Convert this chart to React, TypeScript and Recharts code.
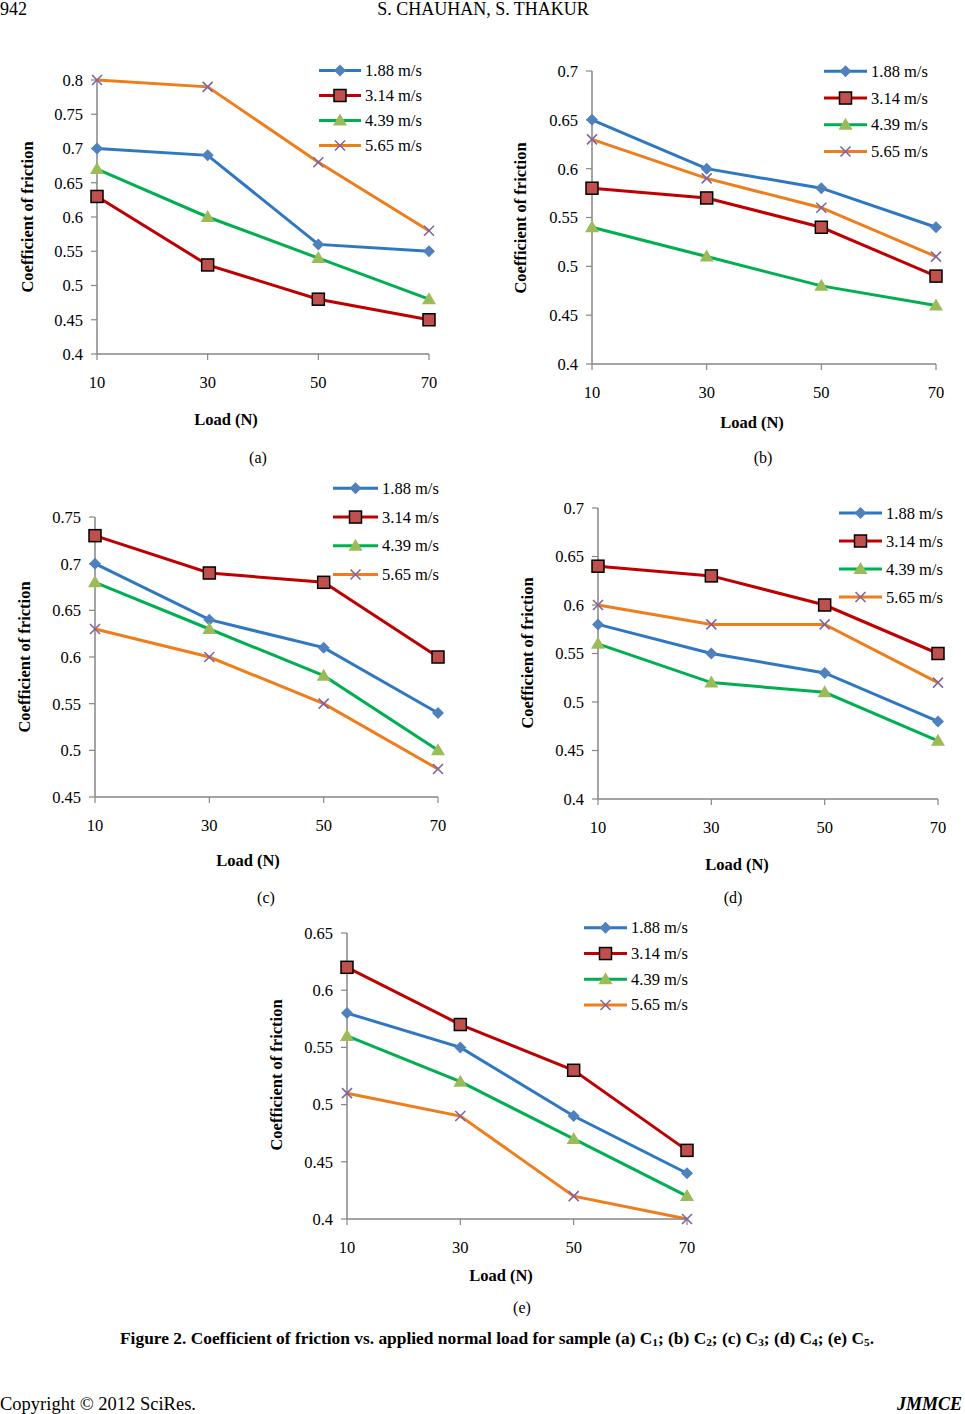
import { Legend, Line, LineChart, XAxis, YAxis } from 'recharts'

const FONT = "'Liberation Serif', 'Times New Roman', serif"
const AXIS = '#868686'

const loads = [10, 30, 50, 70]
const speeds = ['1.88 m/s', '3.14 m/s', '4.39 m/s', '5.65 m/s']

// (a) sample C1
const c1v188 = [0.7, 0.69, 0.56, 0.55]
const c1v314 = [0.63, 0.53, 0.48, 0.45]
const c1v439 = [0.67, 0.6, 0.54, 0.48]
const c1v565 = [0.8, 0.79, 0.68, 0.58]
const c1Ticks = [0.4, 0.45, 0.5, 0.55, 0.6, 0.65, 0.7, 0.75, 0.8]

// (b) sample C2
const c2v188 = [0.65, 0.6, 0.58, 0.54]
const c2v314 = [0.58, 0.57, 0.54, 0.49]
const c2v439 = [0.54, 0.51, 0.48, 0.46]
const c2v565 = [0.63, 0.59, 0.56, 0.51]
const c2Ticks = [0.4, 0.45, 0.5, 0.55, 0.6, 0.65, 0.7]

// (c) sample C3
const c3v188 = [0.7, 0.64, 0.61, 0.54]
const c3v314 = [0.73, 0.69, 0.68, 0.6]
const c3v439 = [0.68, 0.63, 0.58, 0.5]
const c3v565 = [0.63, 0.6, 0.55, 0.48]
const c3Ticks = [0.45, 0.5, 0.55, 0.6, 0.65, 0.7, 0.75]

// (d) sample C4
const c4v188 = [0.58, 0.55, 0.53, 0.48]
const c4v314 = [0.64, 0.63, 0.6, 0.55]
const c4v439 = [0.56, 0.52, 0.51, 0.46]
const c4v565 = [0.6, 0.58, 0.58, 0.52]
const c4Ticks = [0.4, 0.45, 0.5, 0.55, 0.6, 0.65, 0.7]

// (e) sample C5
const c5v188 = [0.58, 0.55, 0.49, 0.44]
const c5v314 = [0.62, 0.57, 0.53, 0.46]
const c5v439 = [0.56, 0.52, 0.47, 0.42]
const c5v565 = [0.51, 0.49, 0.42, 0.4]
const c5Ticks = [0.4, 0.45, 0.5, 0.55, 0.6, 0.65]

const keys = ['s188', 's314', 's439', 's565']

const seriesStyle = [
  { line: '#2e77c2', fill: '#4f81bd', shape: 'diamond' },
  { line: '#c00000', fill: '#c0504d', shape: 'square' },
  { line: '#00b050', fill: '#9bbb59', shape: 'triangle' },
  { line: '#ef7d1c', fill: '#8064a2', shape: 'cross' },
]

function buildRows(cols: number[][]) {
  return loads.map((load, i) => {
    const row: Record<string, number> = { load }
    keys.forEach((k, j) => {
      row[k] = cols[j][i]
    })
    return row
  })
}

function Marker({ shape, cx, cy, fill }: { shape: string; cx: number; cy: number; fill: string }) {
  if (shape === 'diamond') {
    return <polygon points={`${cx},${cy - 6} ${cx + 6},${cy} ${cx},${cy + 6} ${cx - 6},${cy}`} fill={fill} />
  }
  if (shape === 'square') {
    return <rect x={cx - 6} y={cy - 6} width={12} height={12} fill={fill} stroke="#000" strokeWidth={1.5} />
  }
  if (shape === 'triangle') {
    return <polygon points={`${cx},${cy - 7} ${cx + 7},${cy + 5} ${cx - 7},${cy + 5}`} fill={fill} />
  }
  return (
    <g stroke={fill} strokeWidth={1.6}>
      <line x1={cx - 5} y1={cy - 5} x2={cx + 5} y2={cy + 5} />
      <line x1={cx - 5} y1={cy + 5} x2={cx + 5} y2={cy - 5} />
    </g>
  )
}

function makeDot(shape: string, fill: string) {
  return (props: any) => (
    <Marker key={`dot-${props.index}`} shape={shape} cx={props.cx} cy={props.cy} fill={fill} />
  )
}

function LegendBox({ gap, lineLen }: { gap: number; lineLen: number }) {
  return (
    <svg width={lineLen + 80} height={gap * 4} style={{ display: 'block', overflow: 'visible' }}>
      {speeds.map((name, i) => {
        const st = seriesStyle[i]
        const y = gap / 2 + i * gap
        return (
          <g key={name}>
            <line x1={0} y1={y} x2={lineLen} y2={y} stroke={st.line} strokeWidth={3} />
            <Marker shape={st.shape} cx={lineLen / 2} cy={y} fill={st.fill} />
            <text x={lineLen + 4} y={y} dominantBaseline="central" fontFamily={FONT} fontSize={16.5} fill="#000">
              {name}
            </text>
          </g>
        )
      })}
    </svg>
  )
}

interface PanelProps {
  rows: Record<string, number>[]
  ticks: number[]
  left: number
  right: number
  top: number
  bottom: number
  legendX: number
  legendY: number
  legendGap: number
  legendLine: number
}

function Panel({ rows, ticks, left, right, top, bottom, legendX, legendY, legendGap, legendLine }: PanelProps) {
  const yw = 60
  const mt = 40
  const mr = 25
  const xh = 45
  const chartLeft = left - yw
  const chartTop = top - mt
  const width = right - left + yw + mr
  const height = bottom - top + mt + xh
  return (
    <div style={{ position: 'absolute', left: chartLeft, top: chartTop }}>
      <LineChart width={width} height={height} data={rows} margin={{ top: mt, right: mr, bottom: 0, left: 0 }}>
        <XAxis
          dataKey="load"
          type="number"
          domain={[10, 70]}
          ticks={loads}
          height={xh}
          axisLine={{ stroke: AXIS, strokeWidth: 1.5 }}
          tickLine={{ stroke: AXIS, strokeWidth: 1.2 }}
          tickSize={6}
          tickMargin={16}
          tick={{ fill: '#000', fontSize: 16.5, fontFamily: FONT }}
        />
        <YAxis
          type="number"
          domain={[ticks[0], ticks[ticks.length - 1]]}
          ticks={ticks}
          width={yw}
          interval={0}
          axisLine={{ stroke: AXIS, strokeWidth: 1.5 }}
          tickLine={{ stroke: AXIS, strokeWidth: 1.2 }}
          tickSize={6}
          tickMargin={8}
          tickFormatter={(v: number) => String(Math.round(v * 100) / 100)}
          tick={{ fill: '#000', fontSize: 16.5, fontFamily: FONT }}
        />
        <Legend
          layout="vertical"
          align="center"
          verticalAlign="middle"
          wrapperStyle={{ left: legendX - chartLeft, top: legendY - legendGap / 2 - chartTop, width: 'auto' }}
          content={() => <LegendBox gap={legendGap} lineLen={legendLine} />}
        />
        {keys.map((k, i) => (
          <Line
            key={k}
            dataKey={k}
            name={speeds[i]}
            type="linear"
            stroke={seriesStyle[i].line}
            strokeWidth={3}
            dot={makeDot(seriesStyle[i].shape, seriesStyle[i].fill)}
            activeDot={false}
            isAnimationActive={false}
          />
        ))}
      </LineChart>
    </div>
  )
}

function YTitle({ x, y }: { x: number; y: number }) {
  return (
    <text
      transform={`translate(${x},${y}) rotate(-90)`}
      textAnchor="middle"
      dominantBaseline="central"
      fontWeight="bold"
      fontSize={16.5}
    >
      Coefficient of friction
    </text>
  )
}

function XTitle({ x, y }: { x: number; y: number }) {
  return (
    <text x={x} y={y} textAnchor="middle" dominantBaseline="central" fontWeight="bold" fontSize={16.5}>
      Load (N)
    </text>
  )
}

function Tag({ x, y, label }: { x: number; y: number; label: string }) {
  return (
    <text x={x} y={y} textAnchor="middle" dominantBaseline="central" fontSize={16}>
      {label}
    </text>
  )
}

export default function App() {
  return (
    <div style={{ position: 'absolute', left: 0, top: 0, width: 965, height: 1414, background: '#fff', fontFamily: FONT }}>
      <svg width={965} height={1414} style={{ position: 'absolute', left: 0, top: 0 }} fontFamily={FONT}>
        <text x={0} y={9} dominantBaseline="central" fontSize={18}>942</text>
        <text x={483} y={9} textAnchor="middle" dominantBaseline="central" fontSize={18}>S. CHAUHAN, S. THAKUR</text>

        <YTitle x={27} y={217} />
        <XTitle x={226} y={419} />
        <Tag x={258} y={457} label="(a)" />

        <YTitle x={520} y={218} />
        <XTitle x={752} y={422} />
        <Tag x={763} y={457} label="(b)" />

        <YTitle x={24} y={657} />
        <XTitle x={248} y={860} />
        <Tag x={266} y={897} label="(c)" />

        <YTitle x={527} y={653} />
        <XTitle x={737} y={864} />
        <Tag x={733} y={897} label="(d)" />

        <YTitle x={276} y={1075} />
        <XTitle x={501} y={1275} />
        <Tag x={522} y={1307} label="(e)" />

        <text
          x={497}
          y={1338}
          textAnchor="middle"
          dominantBaseline="central"
          fontWeight="bold"
          fontSize={17}
          textLength={754}
          lengthAdjust="spacingAndGlyphs"
        >
          Figure 2. Coefficient of friction vs. applied normal load for sample (a) C<tspan fontSize={11} dy={4}>1</tspan>
          <tspan dy={-4}>; (b) C</tspan><tspan fontSize={11} dy={4}>2</tspan>
          <tspan dy={-4}>; (c) C</tspan><tspan fontSize={11} dy={4}>3</tspan>
          <tspan dy={-4}>; (d) C</tspan><tspan fontSize={11} dy={4}>4</tspan>
          <tspan dy={-4}>; (e) C</tspan><tspan fontSize={11} dy={4}>5</tspan>
          <tspan dy={-4}>.</tspan>
        </text>

        <text x={0} y={1404} dominantBaseline="central" fontSize={18.5}>Copyright © 2012 SciRes.</text>
        <text x={962} y={1404} textAnchor="end" dominantBaseline="central" fontSize={18} fontWeight="bold" fontStyle="italic">
          JMMCE
        </text>
      </svg>

      <Panel rows={buildRows([c1v188, c1v314, c1v439, c1v565])} ticks={c1Ticks}
        left={97} right={429} top={80} bottom={354}
        legendX={319} legendY={70} legendGap={25} legendLine={42} />
      <Panel rows={buildRows([c2v188, c2v314, c2v439, c2v565])} ticks={c2Ticks}
        left={592} right={936} top={71} bottom={364}
        legendX={824} legendY={71} legendGap={26.7} legendLine={43} />
      <Panel rows={buildRows([c3v188, c3v314, c3v439, c3v565])} ticks={c3Ticks}
        left={95} right={438} top={517} bottom={797}
        legendX={333} legendY={488} legendGap={28.7} legendLine={45} />
      <Panel rows={buildRows([c4v188, c4v314, c4v439, c4v565])} ticks={c4Ticks}
        left={598} right={938} top={508} bottom={799}
        legendX={839} legendY={513} legendGap={28} legendLine={43} />
      <Panel rows={buildRows([c5v188, c5v314, c5v439, c5v565])} ticks={c5Ticks}
        left={347} right={687} top={933} bottom={1219}
        legendX={584} legendY={928} legendGap={25.7} legendLine={43} />
    </div>
  )
}
